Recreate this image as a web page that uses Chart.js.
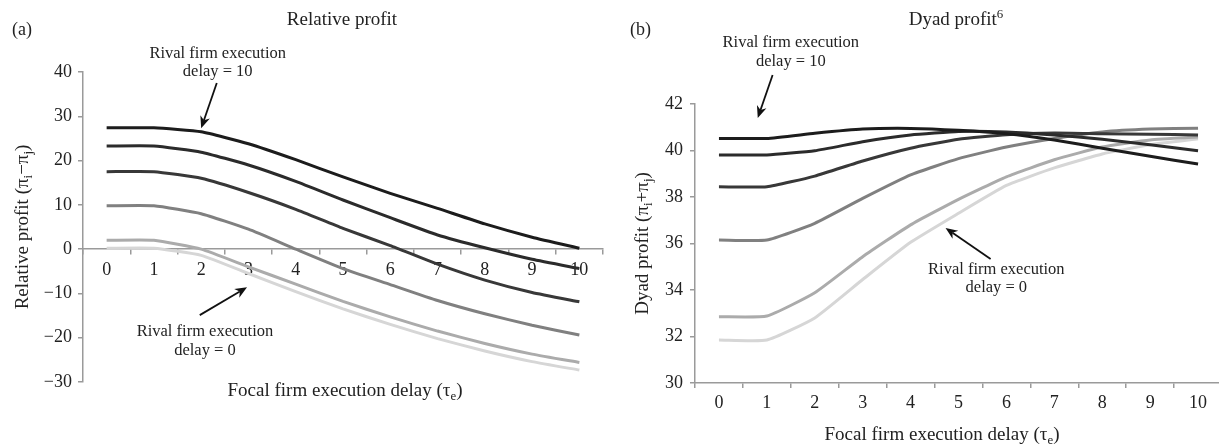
<!DOCTYPE html>
<html>
<head>
<meta charset="utf-8">
<script src="https://cdn.jsdelivr.net/npm/chart.js@4.4.1/dist/chart.umd.min.js"></script>
<style>
  html, body { margin: 0; padding: 0; background: #fff; overflow: hidden; }
  #wrap { position: relative; width: 1219px; height: 445px; }
  canvas { position: absolute; top: 0; }
  #left { left: 0; }
  #right { left: 620px; }
</style>
</head>
<body>
<div id="wrap">
  <canvas id="left" width="620" height="445"></canvas>
  <canvas id="right" width="603" height="445"></canvas>
</div>
<script>
// focal firm execution delay (x categories)
const delays = ['0', '1', '2', '3', '4', '5', '6', '7', '8', '9', '10']

// (a) relative profit, one line per rival execution delay (top = 10, bottom = 0)
const relR10 = [27.4, 27.4, 26.5, 23.8, 20.2, 16.3, 12.6, 9.2, 5.7, 2.7, 0.2]
const relR8 = [23.3, 23.3, 21.9, 19.0, 15.3, 11.1, 7.1, 3.2, 0.3, -2.3, -4.4]
const relR6 = [17.5, 17.5, 16.0, 12.8, 9.0, 4.7, 0.8, -3.4, -7.0, -9.8, -11.9]
const relR4 = [9.8, 9.8, 8.0, 4.5, 0.0, -4.4, -8.0, -11.6, -14.6, -17.2, -19.4]
const relR2 = [2.0, 2.0, 0.0, -4.0, -7.9, -11.8, -15.3, -18.5, -21.3, -23.7, -25.6]
const relR0 = [0.2, 0.2, -1.4, -5.5, -9.6, -13.5, -17.0, -20.2, -23.0, -25.4, -27.3]

// (b) dyad profit
const dyadR10 = [40.52, 40.52, 40.74, 40.92, 40.95, 40.87, 40.72, 40.45, 40.1, 39.75, 39.42]
const dyadR8 = [39.81, 39.81, 39.99, 40.38, 40.67, 40.82, 40.8, 40.67, 40.48, 40.25, 39.99]
const dyadR6 = [38.44, 38.44, 38.9, 39.55, 40.1, 40.48, 40.68, 40.75, 40.72, 40.7, 40.67]
const dyadR4 = [36.15, 36.15, 36.87, 37.94, 38.95, 39.65, 40.15, 40.52, 40.8, 40.92, 40.96]
const dyadR2 = [32.85, 32.88, 33.88, 35.43, 36.8, 37.9, 38.87, 39.6, 40.15, 40.45, 40.58]
const dyadR0 = [31.85, 31.85, 32.8, 34.45, 36.05, 37.3, 38.5, 39.25, 39.85, 40.25, 40.5]

const lineColors = ['#1c1c1c', '#2b2b2b', '#383838', '#808080', '#ababab', '#d6d6d6']
const serif = '"Liberation Serif", "Times New Roman", serif'
const axisGray = '#9a9a9a'
const textColor = '#222'

// draws a run of text pieces, some as sub/superscript
function drawRich(ctx, parts, x, y, size, align) {
  let total = 0
  parts.forEach(p => {
    ctx.font = ((p.sub || p.sup) ? size * 0.68 : size) + 'px ' + serif
    p.w = ctx.measureText(p.t).width
    total += p.w
  })
  let cx = align === 'center' ? x - total / 2 : x
  parts.forEach(p => {
    ctx.font = ((p.sub || p.sup) ? size * 0.68 : size) + 'px ' + serif
    const dy = p.sub ? size * 0.32 : (p.sup ? -size * 0.3 : 0)
    ctx.fillText(p.t, cx, y + dy)
    cx += p.w
  })
}

function drawArrow(ctx, x1, y1, x2, y2) {
  const ang = Math.atan2(y2 - y1, x2 - x1)
  const len = 12, half = 5
  ctx.save()
  ctx.strokeStyle = '#111'
  ctx.fillStyle = '#111'
  ctx.lineWidth = 1.8
  ctx.beginPath()
  ctx.moveTo(x1, y1)
  ctx.lineTo(x2 - Math.cos(ang) * len * 0.7, y2 - Math.sin(ang) * len * 0.7)
  ctx.stroke()
  ctx.translate(x2, y2)
  ctx.rotate(ang)
  ctx.beginPath()
  ctx.moveTo(0, 0)
  ctx.lineTo(-len, -half)
  ctx.lineTo(-len * 0.7, 0)
  ctx.lineTo(-len, half)
  ctx.closePath()
  ctx.fill()
  ctx.restore()
}

// titles, axis titles and arrow notes (positions in data units where possible)
const textPlugin = {
  id: 'textPlugin',
  afterDraw(chart, args, opts) {
    const ctx = chart.ctx
    const xs = chart.scales.x, ys = chart.scales.y
    const area = chart.chartArea
    ctx.save()
    ctx.fillStyle = textColor
    ctx.textBaseline = 'middle'
    ctx.textAlign = 'left'

    ctx.font = '18px ' + serif
    ctx.fillText(opts.panel, opts.panelX, 30)

    drawRich(ctx, opts.title, opts.titleX, 20, 19, 'center')
    drawRich(ctx, opts.xTitle, opts.xTitleX, opts.xTitleY, 19, 'center')

    ctx.save()
    ctx.translate(23, (area.top + area.bottom) / 2)
    ctx.rotate(-Math.PI / 2)
    drawRich(ctx, opts.yTitle, 0, 0, 19, 'center')
    ctx.restore()

    opts.notes.forEach(n => {
      const tx = xs.getPixelForValue(n.textAt[0])
      ctx.textAlign = 'center'
      ctx.font = '16.5px ' + serif
      ctx.fillText(n.lines[0], tx, ys.getPixelForValue(n.textAt[1]))
      ctx.fillText(n.lines[1], tx, ys.getPixelForValue(n.textAt[2]))
      drawArrow(ctx,
        xs.getPixelForValue(n.from[0]), ys.getPixelForValue(n.from[1]),
        xs.getPixelForValue(n.to[0]), ys.getPixelForValue(n.to[1]))
    })
    ctx.restore()
  }
}

function makeDatasets(series) {
  return series.map((s, i) => ({
    data: s,
    borderColor: lineColors[i],
    borderWidth: 3,
    pointRadius: 0,
    tension: 0.15,
    fill: false
  }))
}

const tickFont = { family: serif, size: 18 }
const minus = v => String(v).replace('-', '\u2212')

new Chart(document.getElementById('left'), {
  type: 'line',
  data: { labels: delays, datasets: makeDatasets([relR10, relR8, relR6, relR4, relR2, relR0]) },
  options: {
    responsive: false,
    animation: false,
    layout: { padding: { left: 0, right: 17, top: 72, bottom: 63 } },
    plugins: {
      legend: { display: false },
      tooltip: { enabled: false },
      textPlugin: {
        panel: '(a)', panelX: 12,
        title: [{ t: 'Relative profit' }], titleX: 342,
        xTitle: [{ t: 'Focal firm execution delay (\u03c4' }, { t: 'e', sub: true }, { t: ')' }],
        xTitleX: 345, xTitleY: 391,
        yTitle: [{ t: 'Relative profit (\u03c0' }, { t: 'i', sub: true }, { t: '\u2212\u03c0' }, { t: 'j', sub: true }, { t: ')' }],
        notes: [
          { lines: ['Rival firm execution', 'delay = 10'], textAt: [2.35, 44.2, 40.0], from: [2.33, 37.5], to: [2.0, 27.3] },
          { lines: ['Rival firm execution', 'delay = 0'], textAt: [2.08, -18.7, -23.0], from: [1.97, -14.9], to: [2.97, -8.6] }
        ]
      }
    },
    scales: {
      x: {
        type: 'category',
        position: { y: 0 },
        offset: true,
        grid: { offset: true, drawOnChartArea: false, drawTicks: true, tickLength: 5, color: axisGray, lineWidth: 1.5 },
        border: { display: true, color: axisGray, width: 1.5 },
        ticks: { font: tickFont, color: textColor, padding: 5, maxRotation: 0, autoSkip: false }
      },
      y: {
        min: -30,
        max: 40,
        afterFit: s => { s.width = 83 },
        grid: { drawOnChartArea: false, drawTicks: true, tickLength: 5, color: axisGray, lineWidth: 1.5 },
        border: { display: true, color: axisGray, width: 1.5 },
        ticks: { stepSize: 10, font: tickFont, color: textColor, padding: 6, callback: minus }
      }
    }
  },
  plugins: [textPlugin]
})

new Chart(document.getElementById('right'), {
  type: 'line',
  data: { labels: delays, datasets: makeDatasets([dyadR10, dyadR8, dyadR6, dyadR4, dyadR2, dyadR0]) },
  options: {
    responsive: false,
    animation: false,
    layout: { padding: { left: 0, right: 1, top: 104, bottom: 0 } },
    plugins: {
      legend: { display: false },
      tooltip: { enabled: false },
      textPlugin: {
        panel: '(b)', panelX: 10,
        title: [{ t: 'Dyad profit' }, { t: '6', sup: true }], titleX: 336,
        xTitle: [{ t: 'Focal firm execution delay (\u03c4' }, { t: 'e', sub: true }, { t: ')' }],
        xTitleX: 322, xTitleY: 435,
        yTitle: [{ t: 'Dyad profit (\u03c0' }, { t: 'i', sub: true }, { t: '+\u03c0' }, { t: 'j', sub: true }, { t: ')' }],
        notes: [
          { lines: ['Rival firm execution', 'delay = 10'], textAt: [1.5, 44.62, 43.8], from: [1.12, 43.25], to: [0.81, 41.4] },
          { lines: ['Rival firm execution', 'delay = 0'], textAt: [5.79, 34.86, 34.09], from: [5.67, 35.33], to: [4.73, 36.67] }
        ]
      }
    },
    scales: {
      x: {
        type: 'category',
        position: 'bottom',
        offset: true,
        afterFit: s => { s.height = 62 },
        grid: { offset: true, drawOnChartArea: false, drawTicks: true, tickLength: 5, color: axisGray, lineWidth: 1.5 },
        border: { display: true, color: axisGray, width: 1.5 },
        ticks: { font: tickFont, color: textColor, padding: 4, maxRotation: 0, autoSkip: false }
      },
      y: {
        min: 30,
        max: 42,
        afterFit: s => { s.width = 75 },
        grid: { drawOnChartArea: false, drawTicks: true, tickLength: 5, color: axisGray, lineWidth: 1.5 },
        border: { display: true, color: axisGray, width: 1.5 },
        ticks: { stepSize: 2, font: tickFont, color: textColor, padding: 7 }
      }
    }
  },
  plugins: [textPlugin]
})
</script>
</body>
</html>
